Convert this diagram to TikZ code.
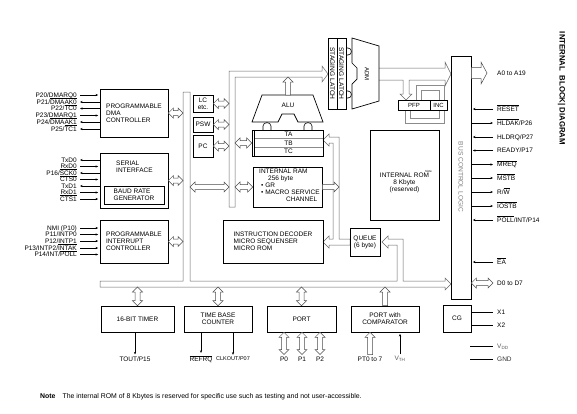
\documentclass[tikz,border=0pt]{standalone}
\usepackage{fontspec}
\setmainfont{Liberation Sans}
\usetikzlibrary{positioning,arrows.meta,calc}
\newcommand{\ovl}[1]{\ensuremath{\overline{\hbox{#1}}}}
\tikzset{
  blk/.style={draw,line width=0.7pt,inner sep=0pt,align=center,font=\fontsize{6.5}{7}\selectfont},
  txt/.style={inner sep=0pt,font=\fontsize{6.5}{7}\selectfont},
  pinl/.style={txt,anchor=east,text height=4.7pt,text depth=0pt},
  pinr/.style={txt,anchor=west,text height=4.7pt,text depth=0pt},
  sigin/.style={-{Stealth[length=2.6pt,width=2.2pt]},line width=0.5pt,shorten >=1.5pt},
  sigout/.style={{Stealth[length=2.6pt,width=2.2pt]}-,line width=0.5pt},
  busln/.style={draw=black!60,line width=0.5pt,line join=miter},
  hol/.style={draw=black!70,fill=white,line width=0.5pt,line join=miter},
  % hollow bus arrows (head 5pt, stem 5pt wide)
  harr2/.style={hol,to path={(\tikztostart) -- ($(\tikztostart)+(5,5)$) -- ($(\tikztostart)+(5,2.5)$)
    -- ($(\tikztotarget)+(-5,2.5)$) -- ($(\tikztotarget)+(-5,5)$) -- (\tikztotarget)
    -- ($(\tikztotarget)+(-5,-5)$) -- ($(\tikztotarget)+(-5,-2.5)$)
    -- ($(\tikztostart)+(5,-2.5)$) -- ($(\tikztostart)+(5,-5)$) -- cycle}},
  varr2/.style={hol,to path={(\tikztostart) -- ($(\tikztostart)+(5,5)$) -- ($(\tikztostart)+(2.5,5)$)
    -- ($(\tikztotarget)+(2.5,-5)$) -- ($(\tikztotarget)+(5,-5)$) -- (\tikztotarget)
    -- ($(\tikztotarget)+(-5,-5)$) -- ($(\tikztotarget)+(-2.5,-5)$)
    -- ($(\tikztostart)+(-2.5,5)$) -- ($(\tikztostart)+(-5,5)$) -- cycle}},
  uparr/.style={hol,to path={($(\tikztostart)+(2.5,0)$) -- ($(\tikztotarget)+(2.5,5)$)
    -- ($(\tikztotarget)+(5,5)$) -- (\tikztotarget) -- ($(\tikztotarget)+(-5,5)$)
    -- ($(\tikztotarget)+(-2.5,5)$) -- ($(\tikztostart)+(-2.5,0)$) -- cycle}},
  rarr/.style={hol,to path={($(\tikztostart)+(0,-2.5)$) -- ($(\tikztotarget)+(-5,-2.5)$)
    -- ($(\tikztotarget)+(-5,-5)$) -- (\tikztotarget) -- ($(\tikztotarget)+(-5,5)$)
    -- ($(\tikztotarget)+(-5,2.5)$) -- ($(\tikztostart)+(0,2.5)$) -- cycle}},
}
\begin{document}
\begin{tikzpicture}[x=1pt,y=-1pt]
  \useasboundingbox (0,0) rectangle (577,413);
  % ---- bus outlines ----
  \draw[busln] (183,92) -- (183,281) -- (100,281) -- (100,287) -- (445,287) -- (445,290) -- (451,284)
    -- (445,278) -- (445,281) -- (403,281) -- (403,239) -- (388,239) -- (388,236) -- (382,242)
    -- (388,248) -- (388,245) -- (397,245) -- (397,281) -- (190,281) -- (190,92) -- cycle;
  \draw[busln] (229,207) -- (229,71) -- (322,71) -- (322,66) -- (328,74) -- (322,82) -- (322,77)
    -- (235,77) -- (235,207) -- cycle;
  \draw[busln] (323,140) -- (329,134) -- (329,137) -- (339,137) -- (339,239) -- (350,239)
    -- (350,245) -- (329,245) -- (329,248) -- (323,242) -- (329,236) -- (329,239) -- (333,239)
    -- (333,143) -- (329,143) -- (329,146) -- cycle;
  \draw[busln] (379,68) -- (445,68) -- (445,62) -- (451,74) -- (445,86) -- (445,80) -- (409,80)
    -- (409,94) -- (412,94) -- (406,100) -- (400,94) -- (403,94) -- (403,80) -- (379,80);
  % prefetch pointer loops
  \draw[busln,black!45] (416,100) -- (416,85) -- (444,85) -- (444,100);
  \draw[busln,black!45] (421,100) -- (421,90) -- (439,90) -- (439,100);
  \draw[busln,black!45] (405,110) -- (405,123) -- (444,123) -- (444,110);
  \draw[busln,black!45] (410,110) -- (410,118) -- (439,118) -- (439,110);
  \coordinate (obl) at (183,0);
  \coordinate (obr) at (190,187);
  \coordinate (ibl) at (229,0);
  \coordinate (ibr) at (235,0);
  \coordinate (qbo) at (339,0);
  \coordinate (bbus) at (0,287);

  % ---- left peripheral blocks ----
  \node[blk,minimum width=68pt,minimum height=48pt,align=left] (dma) at (134,113) {PROGRAMMABLE\\DMA\\CONTROLLER};
  \node[blk,minimum width=68pt,minimum height=55pt] (sio) at (134,180.5) {};
  \node[txt,align=left,anchor=north west] (siot) at (116,161) {SERIAL\\INTERFACE};
  \node[blk,minimum width=60pt,minimum height=18pt,align=left,line width=0.6pt] (baud) at (134,195) {BAUD RATE\\GENERATOR};
  \node[blk,minimum width=68pt,minimum height=43pt,align=left] (intc) at (134,241.5) {PROGRAMMABLE\\INTERRUPT\\CONTROLLER};

  \foreach \y/\t/\s [count=\i] in {95/{P20/DMARQ0}/sigin, 102/{P21/\ovl{DMAAK0}}/sigout,
      108.5/{P22/\ovl{TC0}}/sigout, 115.5/{P23/DMARQ1}/sigin, 122/{P24/\ovl{DMAAK1}}/sigout,
      129/{P25/\ovl{TC1}}/sigout}{
    \node[pinl] (pd\i) at (77,\y) {\t};
    \draw[\s] ([xshift=3pt]pd\i.east) -- (dma.west |- pd\i.east);
  }
  \foreach \y/\t/\s [count=\i] in {160/TxD0/sigout, 166.5/RxD0/sigin, 173/{P16/\ovl{SCK0}}/sigout,
      179.5/{\ovl{CTS0}}/sigin, 186/TxD1/sigout, 192.5/RxD1/sigin, 199/{\ovl{CTS1}}/sigin}{
    \node[pinl] (ps\i) at (77,\y) {\t};
    \draw[\s] ([xshift=3pt]ps\i.east) -- (sio.west |- ps\i.east);
  }
  \foreach \y/\t [count=\i] in {228/{NMI (P10)}, 234.5/{P11/INTP0}, 241/{P12/INTP1},
      248/{P13/INTP2/\ovl{INTAK}}, 254.5/{P14/INT/\ovl{POLL}}}{
    \node[pinl] (pi\i) at (77,\y) {\t};
    \draw[sigin] ([xshift=3pt]pi\i.east) -- (intc.west |- pi\i.east);
  }
  \draw[harr2] (dma.east) to (dma.east -| obl);
  \draw[harr2] (sio.east) to (sio.east -| obl);
  \draw[harr2] (intc.east) to (intc.east -| obl);

  % ---- registers and inner bus ----
  \node[blk,minimum width=20pt,minimum height=17pt] (lc) at (203,103.5) {LC\\etc.};
  \node[blk,minimum width=20pt,minimum height=15pt] (psw) at (203,124.5) {PSW};
  \node[blk,minimum width=20pt,minimum height=22pt] (pc) at (203,146) {PC};
  \foreach \r in {lc,psw,pc}
    \draw[harr2] (\r.east) to (\r.east -| ibl);
  \draw[harr2] (obr) to (obr -| ibl);

  % ALU
  \draw[line width=0.7pt] (262,95) -- (313,95) -- (323,122) -- (298,122) -- (294,114) -- (282,114)
    -- (278,122) -- (252,122) -- cycle;
  \node[txt] (alu) at (288,105) {ALU};
  \coordinate (alut) at (288,95);
  \coordinate (ibtop) at (288,77);
  \draw[uparr] (alut) to (ibtop);
  \foreach \x in {267,308}
    \draw[line width=0.6pt] (\x-4,130) -- (\x-4,126) .. controls (\x-4,121.5) and (\x+4,121.5) .. (\x+4,126) -- (\x+4,130);

  % TA/TB/TC
  \node[blk,minimum width=71pt,minimum height=26pt] (treg) at (287.5,143) {};
  \draw[line width=0.6pt] (254.5,130) -- (254.5,156);
  \draw[black!45,line width=1.2pt] (255,138.7) -- (322.6,138.7);
  \draw[black!45,line width=1.2pt] (255,147.3) -- (322.6,147.3);
  \node[txt] (ta) at (288.5,134.5) {TA};
  \node[txt] (tb) at (288.5,143) {TB};
  \node[txt] (tc) at (288.5,151.7) {TC};
  \draw[harr2] (treg.west -| ibr) to (treg.west);

  % internal RAM
  \node[blk,minimum width=69pt,minimum height=40pt] (ram) at (287.5,187) {};
  \node[txt,align=left,anchor=north west] (ramt) at (259,169) {INTERNAL RAM\\\hspace*{9pt}256 byte\\\hspace*{2pt}• GR\\\hspace*{2pt}• MACRO SERVICE\\\hspace*{27pt}CHANNEL};
  \draw[harr2] (ram.west -| ibr) to (ram.west);
  \draw[rarr] (ram.east) to (ram.east -| qbo);

  % instruction decoder and queue
  \node[blk,minimum width=100pt,minimum height=43pt,align=left] (idec) at (273,241.5) {INSTRUCTION DECODER\\MICRO SEQUENSER\\MICRO ROM};
  \node[blk,minimum width=30pt,minimum height=28pt] (queue) at (365,242) {QUEUE\\(6 byte)};

  % internal ROM
  \node[blk,minimum width=69pt,minimum height=90pt] (rom) at (404.5,175) {};
  \node[txt,align=center] (romt) at (404.5,183) {INTERNAL ROM\\8 Kbyte\\(reserved)};
  \node[inner sep=0pt,font=\fontsize{3}{3}\selectfont] (romn) at (428.5,171) {Note};

  % staging latch, ADM, PFP
  \node[blk,minimum width=9pt,minimum height=71pt,line width=0.6pt] (lat1) at (332.5,73.5) {};
  \node[blk,minimum width=9pt,minimum height=71pt,line width=0.6pt] (lat2) at (341.5,73.5) {};
  \foreach \l in {lat1,lat2}
    \node[txt,rotate=-90,font=\fontsize{6.6}{7}\selectfont] (\l t) at (\l) {STAGING LATCH};
  \draw[line width=0.7pt] (352,38) -- (379,46) -- (379,101) -- (352,109) -- (352,84) -- (357,79)
    -- (357,68) -- (352,63) -- cycle;
  \node[txt,rotate=-90,font=\fontsize{6}{7}\selectfont] (adm) at (367,74) {ADM};
  \foreach \y in {51.5,94.5}
    \draw[line width=0.6pt] (346,\y-3.5) -- (348,\y-3.5) .. controls (352.5,\y-3.5) and (352.5,\y+3.5) .. (348,\y+3.5) -- (346,\y+3.5);
  \node[blk,minimum width=49pt,minimum height=10pt,line width=0.6pt] (pfp) at (422.5,105) {};
  \draw[line width=0.6pt] (430,100) -- (430,110);
  \node[txt,font=\fontsize{6}{7}\selectfont] (pfpt) at (414,105) {PFP};
  \node[txt,font=\fontsize{6}{7}\selectfont] (inct) at (438.5,105) {INC};

  % ---- bus control logic ----
  \node[blk,minimum width=20pt,minimum height=243pt] (bcl) at (461,177.5) {};
  \node[txt,rotate=-90,text=black!50,font=\fontsize{6.6}{7}\selectfont] (bclt) at (461,177) {BUS CONTROL LOGIC};
  \node[pinr] (a019) at (497,73) {A0 to A19};
  \draw[hol] ($(bcl.east |- a019.west)+(0,-5.5)$) -- ($(a019.west)+(-16,-5.5)$) -- ($(a019.west)+(-16,-11)$)
    -- ($(a019.west)+(-10,0)$) -- ($(a019.west)+(-16,11)$) -- ($(a019.west)+(-16,5.5)$)
    -- ($(bcl.east |- a019.west)+(0,5.5)$) -- cycle;
  \foreach \y/\t/\s [count=\i] in {109/{\ovl{RESET}}/sigin, 123/{\ovl{HLDAK}/P26}/sigout,
      137/{HLDRQ/P27}/sigin, 150.5/{READY/P17}/sigin, 164.5/{\ovl{MREQ}}/sigout,
      178/{\ovl{MSTB}}/sigout, 192/{R/\ovl{W}}/sigout, 206/{\ovl{IOSTB}}/sigout,
      220/{\ovl{POLL}/INT/P14}/sigin, 262/{\ovl{EA}}/sigin}{
    \node[pinr] (pr\i) at (497,\y) {\t};
    \draw[\s] ([xshift=-4pt]pr\i.west) -- (bcl.east |- pr\i.west);
  }
  \node[pinr] (d07) at (497,283) {D0 to D7};
  \draw[harr2] (bcl.east |- d07.west) to ([xshift=-4pt]d07.west);

  % clock generator and supply
  \node[blk,minimum width=28pt,minimum height=27pt] (cg) at (457,318.5) {CG};
  \node[pinr] (x1) at (497,312) {X1};
  \node[pinr] (x2) at (497,325) {X2};
  \draw[line width=0.5pt] (cg.east |- x1.west) -- ([xshift=-4pt]x1.west);
  \draw[line width=0.5pt] (cg.east |- x2.west) -- ([xshift=-4pt]x2.west);
  \node[pinr,text=black!65] (vdd) at (497,346) {V\textsubscript{DD}};
  \node[pinr,text=black!80] (gnd) at (497,359) {GND};
  \coordinate (vddl) at (470,346);
  \coordinate (gndl) at (470,359);
  \draw[line width=0.5pt] (vddl) -- ([xshift=-4pt]vdd.west);
  \draw[line width=0.5pt] (gndl) -- ([xshift=-4pt]gnd.west);

  % ---- lower peripheral blocks ----
  \node[blk,minimum width=73pt,minimum height=26pt] (timer) at (137.5,319) {16-BIT TIMER};
  \node[blk,minimum width=68pt,minimum height=26pt] (tbc) at (218,319) {TIME BASE\\COUNTER};
  \node[blk,minimum width=69pt,minimum height=26pt] (port) at (301.5,319) {PORT};
  \node[blk,minimum width=68pt,minimum height=26pt] (pcmp) at (385,319) {PORT with\\COMPARATOR};
  \foreach \b in {timer,tbc,port}
    \draw[varr2] (\b.north |- bbus) to (\b.north);
  \draw[uparr] (pcmp.north) to (pcmp.north |- bbus);

  \node[txt] (tout) at (135,359) {TOUT/P15};
  \node[txt] (refrq) at (201,359) {\ovl{REFRQ}};
  \node[txt,font=\fontsize{5.5}{7}\selectfont] (clko) at (233,359) {CLKOUT/P07};
  \draw[sigout] ([yshift=2pt]tout.north) -- (timer.south -| tout.north);
  \draw[sigout] ([yshift=2pt]refrq.north) -- (tbc.south -| refrq.north);
  \draw[sigout] ([yshift=2pt]clko.north) -- (tbc.south -| clko.north);
  \foreach \p [count=\i] in {284,302,320}{
    \pgfmathtruncatemacro{\n}{\i-1}
    \node[txt] (p\n) at (\p,359) {P\n};
    \draw[varr2] (port.south -| p\n.north) to ([yshift=2pt]p\n.north);
  }
  \node[txt] (pt07) at (370,359) {PT0 to 7};
  \node[txt,text=black!65] (vth) at (400,359) {V\textsubscript{TH}};
  \draw[uparr] ([yshift=2pt]pt07.north) to (pcmp.south -| pt07.north);
  \draw[sigin] ([yshift=2pt]vth.north) -- (pcmp.south -| vth.north);

  % ---- title and note ----
  \node[inner sep=0pt,rotate=-90,font=\bfseries\fontsize{7.8}{8}\selectfont] (title) at (561.5,88.5) {INTERNAL\ \ BLOCK| DIAGRAM};
  \node[txt,anchor=west,font=\fontsize{6.9}{8}\selectfont] (note) at (40,397) {\textbf{Note}\hspace{7pt}The internal ROM of 8 Kbytes is reserved for specific use such as testing and not user-accessible.};
\end{tikzpicture}
\end{document}
